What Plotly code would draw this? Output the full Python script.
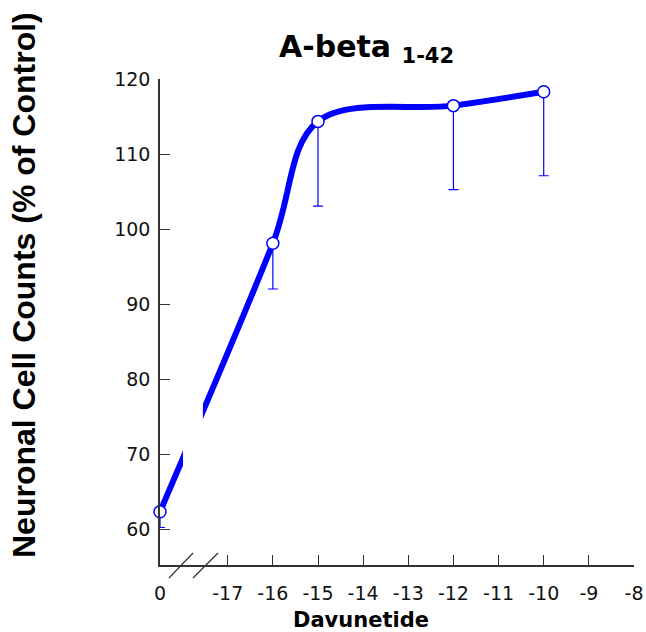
import plotly.graph_objects as go

# ---- data ----
# dose 0 is drawn at the axis-break position (-18.5 on the log axis)
x_vals = [-18.5, -16, -15, -12, -10]
cell_counts = [62.3, 98.1, 114.35, 116.45, 118.3]
err_minus = [2.1, 6.1, 11.3, 11.2, 11.2]
err_plus = [0, 0, 0, 0, 0]

x_tickvals = [-18.5, -17, -16, -15, -14, -13, -12, -11, -10, -9, -8]
x_ticktext = ["0", "-17", "-16", "-15", "-14", "-13", "-12", "-11", "-10", "-9", "-8"]
y_tickvals = [60, 70, 80, 90, 100, 110, 120]

BLUE = "#0000FF"
AXC = "#333333"
TICKFONT = dict(family="DejaVu Sans", size=19, color="#111111")
BOLD = "DejaVu Sans"

fig = go.Figure()

# thick smoothed curve
fig.add_trace(go.Scatter(
    x=x_vals, y=cell_counts, mode="lines",
    line=dict(color=BLUE, width=6, shape="spline", smoothing=1.0),
    hoverinfo="skip", showlegend=False, cliponaxis=False,
))
# points with downward error bars
fig.add_trace(go.Scatter(
    x=x_vals, y=cell_counts, mode="markers",
    marker=dict(size=12, color="white", line=dict(color=BLUE, width=1.5)),
    error_y=dict(type="data", symmetric=False, array=err_plus, arrayminus=err_minus,
                 color=BLUE, thickness=1.2, width=5),
    showlegend=False, cliponaxis=False,
))

L, R, T, B = 160, 12, 79, 67
W, H = 646, 632
pw, ph = W - L - R, H - T - B

def px(xp):
    return (xp - L) / pw

def py(yp):
    return (H - B - yp) / ph

shapes = [
    # gap in the curve at the axis break
    dict(type="rect", xref="x", yref="y", x0=-17.99, x1=-17.55, y0=56, y1=119,
         fillcolor="white", line=dict(width=0), layer="above"),
    # axis-break slashes
    dict(type="line", xref="paper", yref="paper", x0=px(169), y0=py(578), x1=px(193), y1=py(553),
         line=dict(color=AXC, width=1.2)),
    dict(type="line", xref="paper", yref="paper", x0=px(193), y0=py(578), x1=px(218), y1=py(553),
         line=dict(color=AXC, width=1.2)),
]

annotations = [
    dict(text="A-beta <sub>1-42</sub>", xref="paper", yref="paper", x=px(277), y=py(48),
         xanchor="left", yanchor="middle", showarrow=False,
         font=dict(family=BOLD, size=30, color="black", weight="bold")),
    dict(text="Davunetide", xref="paper", yref="paper", x=px(361), y=py(620),
         xanchor="center", yanchor="middle", showarrow=False,
         font=dict(family=BOLD, size=21, color="black", weight="bold")),
    dict(text="Neuronal Cell Counts (% of Control)", xref="paper", yref="paper",
         x=px(24), y=py(285), textangle=-90, xanchor="center", yanchor="middle", showarrow=False,
         font=dict(family="Liberation Sans", size=32, color="black", weight="bold")),
]

fig.update_layout(
    width=W, height=H, autosize=False, margin=dict(l=L, r=R, t=T, b=B, pad=0, autoexpand=False),
    plot_bgcolor="white", paper_bgcolor="white",
    shapes=shapes, annotations=annotations, showlegend=False,
)
fig.update_xaxes(range=[-18.5, -8], tickvals=x_tickvals, ticktext=x_ticktext,
                 ticks="inside", ticklen=10, tickwidth=1, tickcolor=AXC,
                 showline=True, linecolor=AXC, linewidth=1.5, showgrid=False, zeroline=False,
                 tickfont=TICKFONT, ticklabelstandoff=10, automargin=False)
fig.update_yaxes(range=[55.2, 120], tickvals=y_tickvals,
                 ticks="inside", ticklen=10, tickwidth=1, tickcolor=AXC,
                 showline=True, linecolor=AXC, linewidth=1.5, showgrid=False, zeroline=False,
                 tickfont=TICKFONT, ticklabelstandoff=4, automargin=False)

fig.write_html("out.html", config={"responsive": False})
